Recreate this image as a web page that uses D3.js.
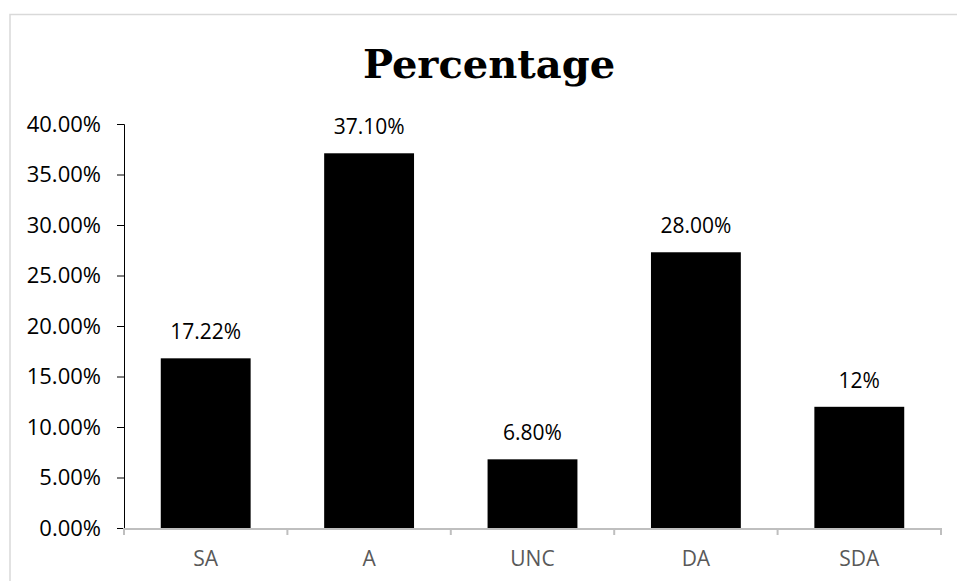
<!DOCTYPE html>
<html lang="en">
<head>
    <meta charset="UTF-8">
    <title>Percentage</title>
    <script src="https://cdn.jsdelivr.net/npm/d3@7/dist/d3.min.js"></script>
    <style>
        body { margin: 0; background: #fff; }
        text { font-family: "Open Sans", sans-serif; }
    </style>
</head>
<body>
    <svg width="957" height="581" id="mainsvg"></svg>
    <script>
        // data
        const categories = ['SA', 'A', 'UNC', 'DA', 'SDA'];
        const values = [16.8, 37.1, 6.8, 27.3, 12.0];
        const valueLabels = ['17.22%', '37.10%', '6.80%', '28.00%', '12%'];
        const yTicks = [0, 5, 10, 15, 20, 25, 30, 35, 40];

        const svg = d3.select('#mainsvg');
        const margin = { top: 124, right: 16, bottom: 53, left: 124 };
        const width = +svg.attr('width');
        const height = +svg.attr('height');

        // chart border (runs off the right and bottom edge)
        svg.append('rect')
            .attr('x', 10).attr('y', 14.5)
            .attr('width', 1000).attr('height', 1000)
            .attr('fill', 'none')
            .attr('stroke', '#d9d9d9')
            .attr('stroke-width', 1.5);

        svg.append('text')
            .attr('x', 489).attr('y', 78)
            .attr('text-anchor', 'middle')
            .style('font-family', '"DejaVu Serif", serif')
            .style('font-weight', 'bold')
            .style('font-size', '40px')
            .attr('fill', '#000')
            .text('Percentage');

        const x = d3.scaleBand()
            .domain(categories)
            .range([margin.left, width - margin.right])
            .paddingInner(0.45)
            .paddingOuter(0.225);

        const y = d3.scaleLinear()
            .domain([0, 40])
            .range([height - margin.bottom, margin.top]);

        // y axis
        const yAxis = svg.append('g')
            .attr('transform', `translate(${margin.left},0)`)
            .call(d3.axisLeft(y).tickValues(yTicks).tickSize(7).tickPadding(16)
                .tickFormat(d => d3.format('.2f')(d) + '%'));
        yAxis.select('.domain').attr('stroke', '#000');
        yAxis.selectAll('.tick line').attr('stroke', '#000');
        yAxis.selectAll('.tick text')
            .style('font-size', '22px')
            .attr('fill', '#000');

        // bars
        svg.append('g').selectAll('rect')
            .data(values)
            .join('rect')
            .attr('x', (d, i) => x(categories[i]))
            .attr('y', d => y(d))
            .attr('width', x.bandwidth())
            .attr('height', d => y(0) - y(d))
            .attr('fill', '#000');

        // x axis (gray baseline with ticks between categories)
        const gap = (x.step() - x.bandwidth()) / 2;
        const bounds = categories.map(c => x(c) - gap).concat([x(categories[categories.length - 1]) + x.bandwidth() + gap]);
        const xg = svg.append('g');
        xg.append('line')
            .attr('x1', bounds[0]).attr('x2', bounds[bounds.length - 1])
            .attr('y1', y(0) + 1).attr('y2', y(0) + 1)
            .attr('stroke', '#bfbfbf').attr('stroke-width', 2);
        xg.selectAll('.xtick')
            .data(bounds)
            .join('line')
            .attr('class', 'xtick')
            .attr('x1', d => d).attr('x2', d => d)
            .attr('y1', y(0)).attr('y2', y(0) + 7)
            .attr('stroke', '#bfbfbf').attr('stroke-width', 2);
        xg.selectAll('.xlabel')
            .data(categories)
            .join('text')
            .attr('class', 'xlabel')
            .attr('x', d => x(d) + x.bandwidth() / 2)
            .attr('y', y(0) + 38)
            .attr('text-anchor', 'middle')
            .style('font-size', '21px')
            .attr('fill', '#595959')
            .text(d => d);

        // value labels
        svg.append('g').selectAll('text')
            .data(values)
            .join('text')
            .attr('x', (d, i) => x(categories[i]) + x.bandwidth() / 2)
            .attr('y', d => y(d) - 19)
            .attr('text-anchor', 'middle')
            .style('font-size', '21px')
            .attr('fill', '#000')
            .text((d, i) => valueLabels[i]);
    </script>
</body>
</html>
